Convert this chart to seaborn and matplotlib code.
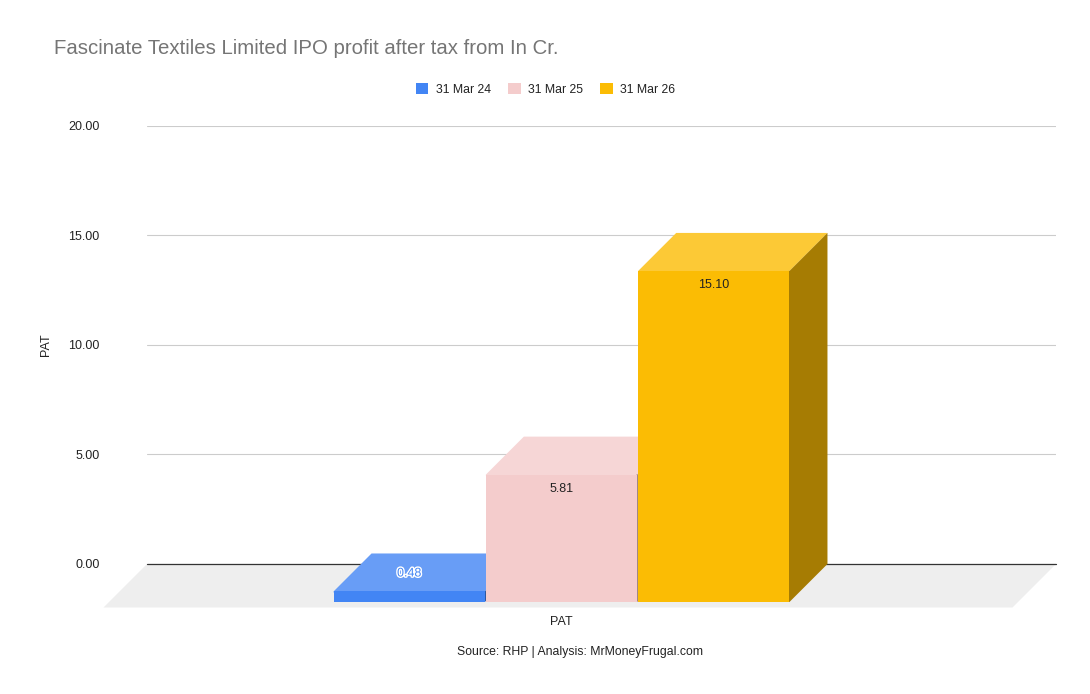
import matplotlib
matplotlib.use('Agg')
import matplotlib.pyplot as plt
import matplotlib.patheffects as pe
from matplotlib.colors import to_rgb
from matplotlib.patches import Polygon
import pandas as pd
import seaborn as sns

# values
periods = ['31 Mar 24', '31 Mar 25', '31 Mar 26']
pat_values = [0.48, 5.81, 15.10]
metric = ['PAT', 'PAT', 'PAT']
y_ticks = [0, 5, 10, 15, 20]
bar_colors = ['#4285F4', '#F4CCCC', '#FBBC04']

W, H = 1090, 694
LEFT, RIGHT, TOP, ZERO = 147, 1056, 125.5, 564  # back plane in pixels
DEPTH = 38  # bar depth
FLOOR = 43.5  # floor depth
BAR_L, BAR_R = 333, 790

sns.set_theme(style='white')
plt.rcParams['font.family'] = ['Liberation Sans', 'DejaVu Sans']
text_color = '#222222'


def box(x0, x1, y_top, y_bot):
    return [x0 / W, 1 - y_bot / H, (x1 - x0) / W, (y_bot - y_top) / H]


def lighter(c):
    return tuple(v * 0.8 + 0.2 for v in to_rgb(c))


def darker(c):
    return tuple(v * 0.66 for v in to_rgb(c))


df = pd.DataFrame({'metric': metric, 'period': periods, 'PAT': pat_values})

fig = plt.figure(figsize=(W / 100, H / 100), dpi=100)

# back wall with gridlines and the floor
ax = fig.add_axes(box(LEFT, RIGHT, TOP, ZERO))
ax.set_xlim(0, 1)
ax.set_ylim(0, 20)
ax.set_yticks(y_ticks)
ax.set_yticklabels([f'{v:.2f}' for v in y_ticks], fontsize=9, color=text_color)
ax.set_xticks([])
ax.tick_params(axis='y', length=0, pad=34)
ax.grid(axis='y', color='#CCCCCC', linewidth=0.8)
ax.set_axisbelow(True)
sns.despine(ax=ax, left=True, bottom=True)
ax.axhline(0, color='#333333', linewidth=0.9, clip_on=False, zorder=3)
ax.set_ylabel('PAT', fontsize=9, color=text_color, labelpad=12)

unit_y = (ZERO - TOP) / 20
floor_x = FLOOR / (RIGHT - LEFT)
floor_y = FLOOR / unit_y
ax.add_patch(Polygon([(0, 0), (1, 0), (1 - floor_x, -floor_y), (-floor_x, -floor_y)],
                     facecolor='#EEEEEE', edgecolor='none', clip_on=False, zorder=1))

# front plane, same scale moved by the bar depth
front = fig.add_axes(box(LEFT - DEPTH, RIGHT - DEPTH, TOP + DEPTH, ZERO + DEPTH))
front.patch.set_visible(False)
sns.barplot(data=df, x='metric', y='PAT', hue='period', hue_order=periods,
            palette=bar_colors, width=0.8, gap=0.007, saturation=1, linewidth=0, ax=front)

unit_x = (BAR_R - BAR_L) / 0.8
mid = (BAR_L + BAR_R) / 2
front.set_xlim((LEFT - DEPTH - mid) / unit_x, (RIGHT - DEPTH - mid) / unit_x)
front.set_ylim(0, 20)
front.set_xlabel('')
front.set_ylabel('')
front.set_yticks([])
front.tick_params(axis='x', length=0, pad=10, labelsize=9, labelcolor=text_color)
sns.despine(ax=front, left=True, bottom=True)

dx = DEPTH / unit_x
dy = DEPTH / unit_y
seam_x = 1 / unit_x  # faces run 1px under the front so no light seam shows
seam_y = 1 / unit_y
for i, (bar, value, c) in enumerate(zip(front.patches, pat_values, bar_colors)):
    x0 = bar.get_x()
    x1 = x0 + bar.get_width()
    h = bar.get_height()
    bar.set_zorder(4 + 2 * i)
    bar.set_clip_on(False)
    front.add_patch(Polygon([(x0, h - seam_y), (x1, h - seam_y), (x1, h), (x1 + dx, h + dy),
                             (x0 + dx, h + dy), (x0, h)],
                            facecolor=lighter(c), edgecolor='none', clip_on=False, zorder=3 + 2 * i))
    front.add_patch(Polygon([(x1 - seam_x, 0), (x1, 0), (x1 + dx, dy), (x1 + dx, h + dy),
                             (x1, h), (x1 - seam_x, h)],
                            facecolor=darker(c), edgecolor='none', clip_on=False, zorder=3 + 2 * i))
    xc = (x0 + x1) / 2
    if h < 1:
        # no room on the front face, label goes on the top face
        front.text(xc, h + dy / 2 - 1 / unit_y, f'{value:.2f}', ha='center', va='center', fontsize=9,
                   color=c, zorder=20,
                   path_effects=[pe.withStroke(linewidth=2, foreground='white')])
    else:
        front.text(xc, h - 14.5 / unit_y, f'{value:.2f}', ha='center', va='center',
                   fontsize=9, color=text_color, zorder=20)

sns.move_legend(front, 'center', bbox_to_anchor=(545.5 / W, 1 - 89.5 / H),
                bbox_transform=fig.transFigure, ncol=3, title=None, frameon=False,
                fontsize=8.8, handlelength=1.05, handleheight=1.05, handletextpad=0.6,
                columnspacing=1.4, labelcolor=text_color)

fig.text(54 / W, 1 - 49 / H, 'Fascinate Textiles Limited IPO profit after tax from In Cr.',
         fontsize=14.65, color='#757575', va='center', ha='left')
fig.text(580 / W, 1 - 652.5 / H, 'Source: RHP | Analysis: MrMoneyFrugal.com',
         fontsize=8.8, color=text_color, va='center', ha='center')

fig.savefig('out.png', dpi=100)
